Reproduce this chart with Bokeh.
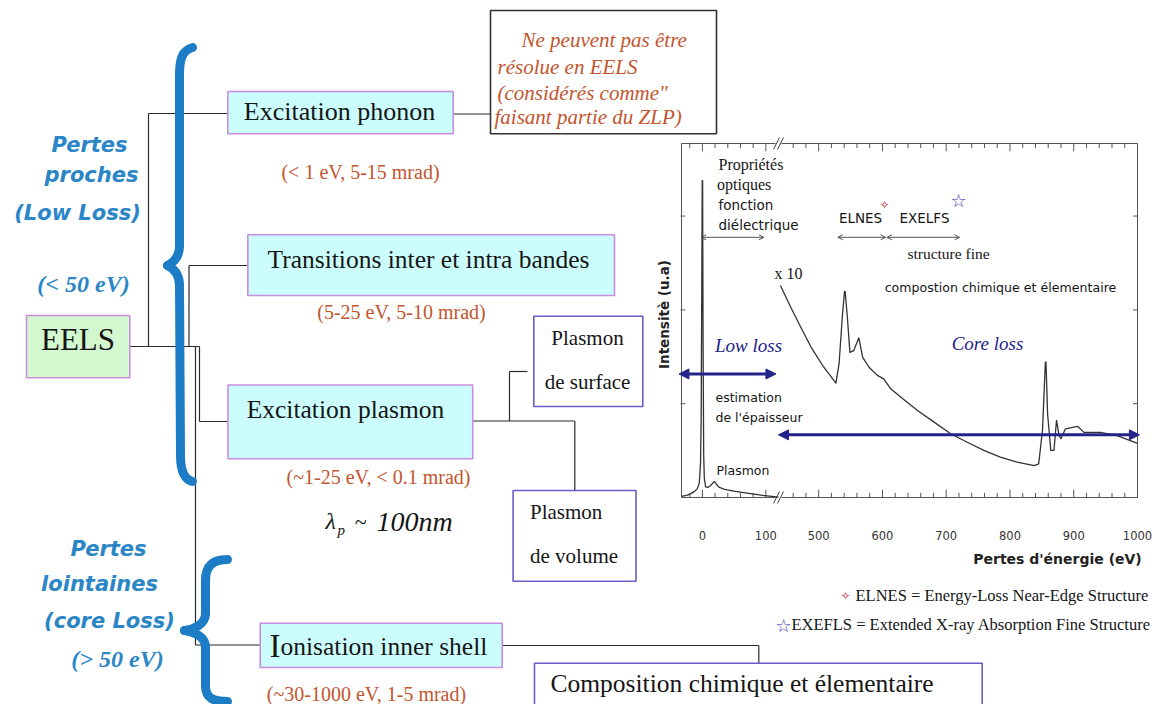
import math
from bokeh.plotting import figure
from bokeh.models import Range1d, Arrow, NormalHead, OpenHead
from bokeh.core.properties import value
from bokeh.embed import file_html
from bokeh.resources import INLINE

# ---------------- data : EELS spectrum ----------------
# low-loss part (eV, intensity a.u. 0..100)
low_E = [-33, -25, -18, -12, -8, -5, -3, -2, -1, -0.3, 0.3, 1, 2, 3, 5, 9, 13, 17, 19, 22, 26, 35, 50, 65, 76, 95, 120]
low_I = [0.3, 0.6, 1.1, 1.8, 2.5, 4.0, 9.6, 22, 60, 89.5, 89.5, 45, 12, 5.5, 3.0, 2.9, 3.4, 4.2, 4.5, 3.8, 2.9, 2.3, 1.8, 1.4, 1.1, 0.6, 0.1]
# core-loss part, x10
core_E = [440, 456, 472, 488, 508, 527, 532, 537, 540.5, 541.5, 545, 549, 555, 563, 569, 579, 592, 602, 613, 629, 655,
          681, 707, 733, 759, 785, 811, 838, 845, 851, 855.5, 856.5, 859, 864, 869, 873, 877, 880, 887, 906, 916, 942, 968, 1000]
core_I = [59.9, 53.8, 48.1, 42.5, 36.8, 32.3, 37.8, 50.9, 58.2, 58.2, 50.9, 41.0, 41.5, 45.1, 39.6, 36.8, 34.5, 33.5, 30.7, 28.3, 24.6,
          21.3, 18.0, 15.6, 13.3, 11.4, 10.0, 9.0, 9.5, 18.9, 38.2, 38.2, 23.6, 13.3, 13.3, 21.8, 17.5, 16.6, 19.4, 20.1, 18.4, 18.4, 17.5, 15.3]
low_tick_vals = [0, 100]
core_tick_vals = [500, 600, 700, 800, 900, 1000]
low_tick_labels = [str(v) for v in low_tick_vals]
core_tick_labels = [str(v) for v in core_tick_vals]
low_minor = list(range(-20, 121, 20))
core_minor = list(range(440, 1001, 20))
int_ticks = [26.5, 53, 79.5]

# ---------------- figure in picture-pixel coordinates ----------------
W, H = 1155, 704
p = figure(width=W, height=H, x_range=Range1d(0, W), y_range=Range1d(H, 0),
           output_backend="svg", toolbar_location=None, min_border=0,
           x_axis_location=None, y_axis_location=None)
p.grid.visible = False
p.outline_line_color = None
p.background_fill_color = "white"
p.border_fill_color = "white"

# inset spectrum scales (broken axis: two eV ranges)
FR_L, FR_R, FR_T, FR_B = 681, 1137, 143, 497
BRK = 778
LO = (-33, 120); HI = (437, 1000)
s_lo = (BRK - FR_L) / (LO[1] - LO[0])
s_hi = (FR_R - BRK) / (HI[1] - HI[0])
s_i = (FR_B - FR_T) / 100.0
p.extra_x_ranges = {
    "lo": Range1d(LO[0] + (0 - FR_L) / s_lo, LO[0] + (W - FR_L) / s_lo),
    "hi": Range1d(HI[0] + (0 - BRK) / s_hi, HI[0] + (W - BRK) / s_hi),
}
p.extra_y_ranges = {"int": Range1d(-(H - FR_B) / s_i, (FR_B - 0) / s_i)}

SERIF = "Liberation Serif"
SANS = "DejaVu Sans"
BLACK = "#151515"
RED = "#c2552e"
BLUE = "#2a86c6"
BRACE = "#1c7dc6"
NAVY = "#23238a"


def txt(x, y, s, size, font=SERIF, color=BLACK, style="normal", align="center", angle=0, **kw):
    p.text(x=[x], y=[y], text=[s], text_font=value(font), text_font_size=value(f"{size}px"),
           text_color=color, text_font_style=style, text_align=align, text_baseline="middle",
           angle=angle, **kw)


def box(l, r, t, b, fill, line):
    p.quad(left=[l], right=[r], top=[t], bottom=[b], fill_color=fill, line_color=line, line_width=1.6)


# ---------------- connectors ----------------
conn = [
    ([129.3, 199], [346, 346]),
    ([148, 148], [113, 346]),
    ([148, 227.3], [113, 113]),
    ([188.5, 188.5], [265, 346]),
    ([188.5, 247.3], [265, 265]),
    ([195, 195], [346, 644.5]),
    ([195, 259.7], [644.5, 644.5]),
    ([199, 199], [346, 421]),
    ([199, 227.5], [421, 421]),
    ([472.2, 574.3], [420.5, 420.5]),
    ([574.3, 574.3], [420.5, 490]),
    ([509, 509], [420.5, 371]),
    ([509, 527], [371, 371]),
    ([452.7, 490], [113.5, 113.5]),
    ([501.7, 758.3], [645, 645]),
    ([758.3, 758.3], [645, 662.7]),
]
p.multi_line(xs=[c[0] for c in conn], ys=[c[1] for c in conn], line_color="#2a2a2a", line_width=1.2)

# ---------------- braces ----------------
def brace(segs):
    for sg in segs:
        if len(sg) == 2:
            (xa, ya), (xb, yb) = sg
            p.line([xa, xb], [ya, yb], line_color=BRACE, line_width=9, line_cap="round")
        else:
            (xa, ya), (c0x, c0y), (c1x, c1y), (xb, yb) = sg
            p.bezier(x0=[xa], y0=[ya], x1=[xb], y1=[yb], cx0=[c0x], cy0=[c0y], cx1=[c1x], cy1=[c1y],
                     line_color=BRACE, line_width=9, line_cap="round")

brace([
    [(192, 47), (182, 50), (179, 58), (179, 74)],
    [(179, 74), (179, 245)],
    [(179, 245), (179, 257), (173, 262), (167, 265)],
    [(167, 265), (173, 268), (179, 273), (179, 285)],
    [(179, 285), (180, 455)],
    [(180, 455), (180, 470), (184, 479), (192, 481)],
])
brace([
    [(227, 559), (213, 559), (205, 565), (205, 580)],
    [(205, 580), (205, 613)],
    [(205, 613), (205, 624), (193, 629), (184, 630)],
    [(184, 630), (193, 631), (205, 636), (205, 647)],
    [(205, 647), (205, 685)],
    [(205, 685), (205, 698), (213, 701), (227, 701)],
])

# ---------------- boxes ----------------
CYAN = "#ccfdfd"; PINK = "#c98de0"; VIOL = "#6a5cc8"
box(26, 129.3, 315, 377.3, "#d3f8cf", PINK)
box(227.3, 452.7, 91, 133.3, CYAN, PINK)
box(247.3, 614, 234.3, 295, CYAN, PINK)
box(227.5, 472.2, 384.5, 458.3, CYAN, PINK)
box(259.7, 501.7, 622.7, 667, CYAN, PINK)
box(533.3, 642.3, 315.7, 406, "white", VIOL)
box(512.6, 635.5, 490, 580.7, "white", VIOL)
box(534, 981.7, 662.7, 730, "white", VIOL)
box(490, 716, 10, 133.3, "white", "#333333")

# ---------------- diagram texts ----------------
txt(77.5, 339, "EELS", 31)
txt(339, 111, "Excitation phonon", 26)
txt(428, 259, "Transitions inter et intra bandes", 25.5)
txt(345, 409, "Excitation plasmon", 25.5)
txt(269, 645, "I", 33, align="left")
txt(280, 646, "onisation inner shell", 25.5, align="left")
txt(550, 683, "Composition chimique et élementaire", 25.5, align="left")
txt(587, 337, "Plasmon", 21)
txt(587, 381, "de surface", 21)
txt(529.5, 511, "Plasmon", 21, align="left")
txt(529.5, 555, "de volume", 21, align="left")

txt(360, 171.5, "(< 1 eV, 5-15 mrad)", 20, color=RED)
txt(401, 311, "(5-25 eV, 5-10 mrad)", 20, color=RED)
txt(378, 476, "(~1-25 eV, < 0.1 mrad)", 20, color=RED)
txt(366, 693, "(~30-1000 eV, 1-5 mrad)", 20, color=RED)

txt(521, 39.5, "Ne peuvent pas être", 21, color=RED, style="italic", align="left")
txt(497, 66, "résolue en EELS", 21, color=RED, style="italic", align="left")
txt(497, 92.5, "(considérés comme\"", 21, color=RED, style="italic", align="left")
txt(494, 116.5, "faisant partie du ZLP)", 21, color=RED, style="italic", align="left")

txt(325, 520, "λ", 24, style="italic", align="left")
txt(337, 529, "p", 15, style="italic", align="left")
txt(354, 521, "~", 22, style="italic", align="left")
txt(376, 521, "100nm", 28, style="italic", align="left")

txt(89, 144, "Pertes", 21, font=SANS, color=BLUE, style="bold italic")
txt(91, 174, "proches", 21, font=SANS, color=BLUE, style="bold italic")
txt(77, 212, "(Low Loss)", 21, font=SANS, color=BLUE, style="bold italic")
txt(83, 283, "(< 50 eV)", 24, color=BLUE, style="bold italic")
txt(108, 548, "Pertes", 21, font=SANS, color=BLUE, style="bold italic")
txt(99, 583, "lointaines", 21, font=SANS, color=BLUE, style="bold italic")
txt(109, 620, "(core Loss)", 21, font=SANS, color=BLUE, style="bold italic")
txt(117, 658, "(> 50 eV)", 24, color=BLUE, style="bold italic")

# ---------------- inset spectrum ----------------
p.quad(left=[FR_L], right=[FR_R], top=[FR_T], bottom=[FR_B], fill_color="white", line_color="#555555", line_width=1)

def ticks(vals, rng, major_every):
    x0s, x1s, y0s, y1s = [], [], [], []
    for v in vals:
        ln = 2.2 if v % major_every == 0 else 1.3
        x0s += [v, v]; x1s += [v, v]
        y0s += [0, 100]; y1s += [ln, 100 - ln]
    p.segment(x0=x0s, x1=x1s, y0=y0s, y1=y1s, line_color="#555555", line_width=1,
              x_range_name=rng, y_range_name="int")

ticks(low_minor, "lo", 100)
ticks(core_minor, "hi", 100)
p.segment(x0=[LO[0] - 1.5] * 3, x1=[LO[0] + 6] * 3, y0=int_ticks, y1=int_ticks,
          line_color="#555555", x_range_name="lo", y_range_name="int")
p.segment(x0=[HI[1] - 7] * 3, x1=[HI[1]] * 3, y0=int_ticks, y1=int_ticks,
          line_color="#555555", x_range_name="hi", y_range_name="int")
# axis break marks
p.quad(left=[BRK - 3], right=[BRK + 3], top=[FR_T - 5], bottom=[FR_T + 5], fill_color="white", line_color=None)
p.quad(left=[BRK - 3], right=[BRK + 3], top=[FR_B - 5], bottom=[FR_B + 5], fill_color="white", line_color=None)
p.segment(x0=[BRK - 5, BRK - 1, BRK - 5, BRK - 1], x1=[BRK + 1, BRK + 5, BRK + 1, BRK + 5],
          y0=[FR_T + 6, FR_T + 6, FR_B + 6, FR_B + 6], y1=[FR_T - 6, FR_T - 6, FR_B - 6, FR_B - 6],
          line_color="#444444", line_width=1)

p.line(low_E, low_I, line_color="#333333", line_width=1.3, line_join="round",
       x_range_name="lo", y_range_name="int")
p.line(core_E, core_I, line_color="#333333", line_width=1.3, line_join="round",
       x_range_name="hi", y_range_name="int")

# tick labels
p.text(x=low_tick_vals, y=[-10.7] * len(low_tick_vals), text=low_tick_labels, text_font=value(SANS),
       text_font_size=value("11.5px"), text_color="#333333", text_align="center", text_baseline="middle",
       x_range_name="lo", y_range_name="int")
p.text(x=core_tick_vals, y=[-10.7] * len(core_tick_vals), text=core_tick_labels, text_font=value(SANS),
       text_font_size=value("11.5px"), text_color="#333333", text_align="center", text_baseline="middle",
       x_range_name="hi", y_range_name="int")
txt(1057, 558, "Pertes d'énergie (eV)", 14, font=SANS, color="#222222", style="bold")
txt(663, 314, "Intensitè (u.a)", 13.5, font=SANS, color="#222222", style="bold", angle=math.pi / 2)

# arrows
p.add_layout(Arrow(x_start=-37, y_start=34.9, x_end=116, y_end=34.9, x_range_name="lo", y_range_name="int",
                   line_color=NAVY, line_width=3,
                   start=NormalHead(size=10, fill_color=NAVY, line_color=NAVY),
                   end=NormalHead(size=10, fill_color=NAVY, line_color=NAVY)))
p.add_layout(Arrow(x_start=437, y_start=17.7, x_end=1003, y_end=17.7, x_range_name="hi", y_range_name="int",
                   line_color=NAVY, line_width=3,
                   start=NormalHead(size=10, fill_color=NAVY, line_color=NAVY),
                   end=NormalHead(size=10, fill_color=NAVY, line_color=NAVY)))
p.add_layout(Arrow(x_start=-2, y_start=73.5, x_end=97, y_end=73.5, x_range_name="lo", y_range_name="int",
                   line_color="#555555", line_width=1,
                   start=OpenHead(size=5, line_color="#555555"), end=OpenHead(size=5, line_color="#555555")))
p.add_layout(Arrow(x_start=530, y_start=73.5, x_end=605, y_end=73.5, x_range_name="hi", y_range_name="int",
                   line_color="#555555", line_width=1,
                   start=OpenHead(size=5, line_color="#555555"), end=OpenHead(size=5, line_color="#555555")))
p.add_layout(Arrow(x_start=607, y_start=73.5, x_end=721, y_end=73.5, x_range_name="hi", y_range_name="int",
                   line_color="#555555", line_width=1,
                   start=OpenHead(size=5, line_color="#555555"), end=OpenHead(size=5, line_color="#555555")))

# inset texts
txt(718, 164, "Propriétés", 16, align="left")
txt(716.5, 183.5, "optiques", 16, align="left")
txt(718, 204, "fonction", 13.5, font=SANS, align="left")
txt(718, 224, "diélectrique", 13.5, font=SANS, align="left")
txt(860, 217, "ELNES", 13.5, font=SANS)
txt(924, 217, "EXELFS", 13.5, font=SANS)
txt(884, 204, "✧", 12, font=SANS, color="#d03040")
txt(958, 200, "☆", 18, font=SANS, color="#3535b0")
txt(948, 253, "structure fine", 15.5)
txt(788, 273, "x 10", 16)
txt(1000, 287, "compostion chimique et élementaire", 12.6, font=SANS)
txt(748, 345, "Low loss", 19, color=NAVY, style="italic")
txt(987, 343, "Core loss", 19, color=NAVY, style="italic")
txt(715, 397, "estimation", 12.5, font=SANS, align="left")
txt(715, 417, "de l'épaisseur", 12.5, font=SANS, align="left")
txt(716, 470, "Plasmon", 12.5, font=SANS, align="left")

# legend
txt(845, 595, "✧", 12, font=SANS, color="#d03040")
txt(855, 595, "ELNES = Energy-Loss Near-Edge Structure", 16.5, align="left")
txt(783, 625, "☆", 18, font=SANS, color="#3535b0")
txt(791, 624, "EXEFLS = Extended X-ray Absorption Fine Structure", 16.5, align="left")

open("out.html", "w").write(file_html(p, INLINE))
